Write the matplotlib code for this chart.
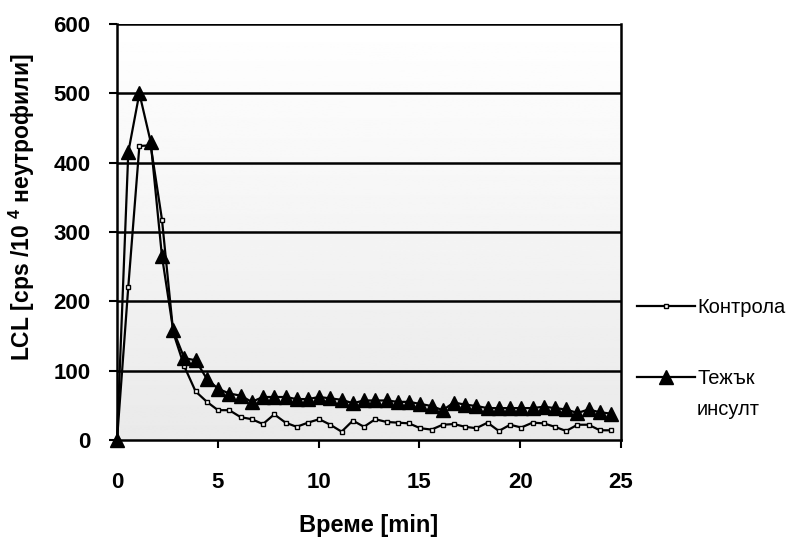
import matplotlib
matplotlib.use("Agg")
import matplotlib.pyplot as plt
from matplotlib.lines import Line2D
import numpy as np

plt.rcParams['font.family'] = ['Liberation Sans', 'DejaVu Sans']
plt.rcParams['mathtext.fontset'] = 'custom'
plt.rcParams['mathtext.bf'] = 'Liberation Sans:bold'
plt.rcParams['mathtext.rm'] = 'Liberation Sans'

# time of each measurement, min
time_min = [0.00, 0.56, 1.11, 1.67, 2.23, 2.79, 3.34, 3.90, 4.46, 5.01,
            5.57, 6.13, 6.68, 7.24, 7.80, 8.36, 8.91, 9.47, 10.03, 10.58,
            11.14, 11.70, 12.25, 12.81, 13.37, 13.93, 14.48, 15.04, 15.60, 16.15,
            16.71, 17.27, 17.82, 18.38, 18.94, 19.50, 20.05, 20.61, 21.17, 21.72,
            22.28, 22.84, 23.39, 23.95, 24.51]

# controls
kontrola = [0, 221, 424, 425, 318, 155, 106, 70, 55, 43,
            43, 33, 30, 23, 37, 25, 19, 25, 30, 22,
            12, 28, 19, 30, 26, 25, 24, 17, 15, 22,
            23, 19, 17, 25, 13, 22, 18, 25, 24, 19,
            13, 22, 22, 14, 14]

# severe stroke
tezhak = [0, 415, 500, 430, 265, 158, 118, 115, 88, 74,
          67, 64, 55, 62, 62, 62, 59, 59, 62, 60,
          58, 53, 57, 57, 57, 55, 55, 52, 49, 43,
          54, 51, 49, 46, 46, 46, 46, 46, 48, 46,
          44, 39, 44, 40, 38]

x_ticks = [0, 5, 10, 15, 20, 25]
y_ticks = [0, 100, 200, 300, 400, 500, 600]

fig = plt.figure(figsize=(7.97, 5.40), dpi=100)
ax = fig.add_axes([0.1468, 0.1852, 0.6324, 0.7704])

# grey gradient behind the plot (white at the top)
grad = np.linspace(0.915, 1.0, 256).reshape(-1, 1)
ax.imshow(grad, cmap='gray', vmin=0, vmax=1, aspect='auto',
          extent=[0, 25, 0, 600], origin='lower', zorder=0)

for y in y_ticks[1:]:
    ax.axhline(y, color='black', lw=1.8, zorder=1)

ax.plot(time_min, kontrola, color='black', lw=1.6, marker='s', ms=3.3,
        mfc='white', mec='black', mew=1.0, zorder=3, clip_on=False)
ax.plot(time_min, tezhak, color='black', lw=1.6, marker='^', ms=10,
        mfc='black', mec='black', zorder=4, clip_on=False)

ax.set_xlim(0, 25)
ax.set_ylim(0, 600)
ax.set_xticks(x_ticks)
ax.set_yticks(y_ticks)
ax.tick_params(axis='x', direction='out', length=6, width=1.5, pad=17,
               labelsize=16)
ax.tick_params(axis='y', direction='out', length=6, width=1.5, pad=13,
               labelsize=16)
for lab in ax.get_xticklabels() + ax.get_yticklabels():
    lab.set_fontweight('bold')

for side in ['left', 'right', 'bottom']:
    ax.spines[side].set_linewidth(1.8)
ax.spines['top'].set_visible(False)

ax.set_xlabel('Време [min]', fontsize=17, fontweight='bold', labelpad=15)
ax.set_ylabel('LCL [cps /10 $\\mathbf{^{4}}$ неутрофили]', fontsize=16.5,
              fontweight='bold')
ax.yaxis.set_label_coords(-0.158, 0.56)

# legend: handle sits next to the first line of the second label
handles = [Line2D([], [], color='black', lw=1.6, marker='s', ms=3.3,
                  mfc='white', mec='black', mew=1.0),
           Line2D([], [], color='black', lw=1.6, marker='^', ms=10,
                  mfc='black', mec='black')]
leg = ax.legend(handles, ['Контрола', 'Тежък'], loc='upper left',
                bbox_to_anchor=(1.015, 0.36), frameon=False, fontsize=14.5,
                handlelength=2.9, handletextpad=0.1, labelspacing=2.55,
                borderaxespad=0)
fig.canvas.draw()
bb = leg.get_texts()[1].get_window_extent().transformed(fig.transFigure.inverted())
fig.text(bb.x0, bb.y0 - 0.022, 'инсулт', fontsize=14.5, ha='left', va='top')

fig.savefig('out.png', dpi=100)
